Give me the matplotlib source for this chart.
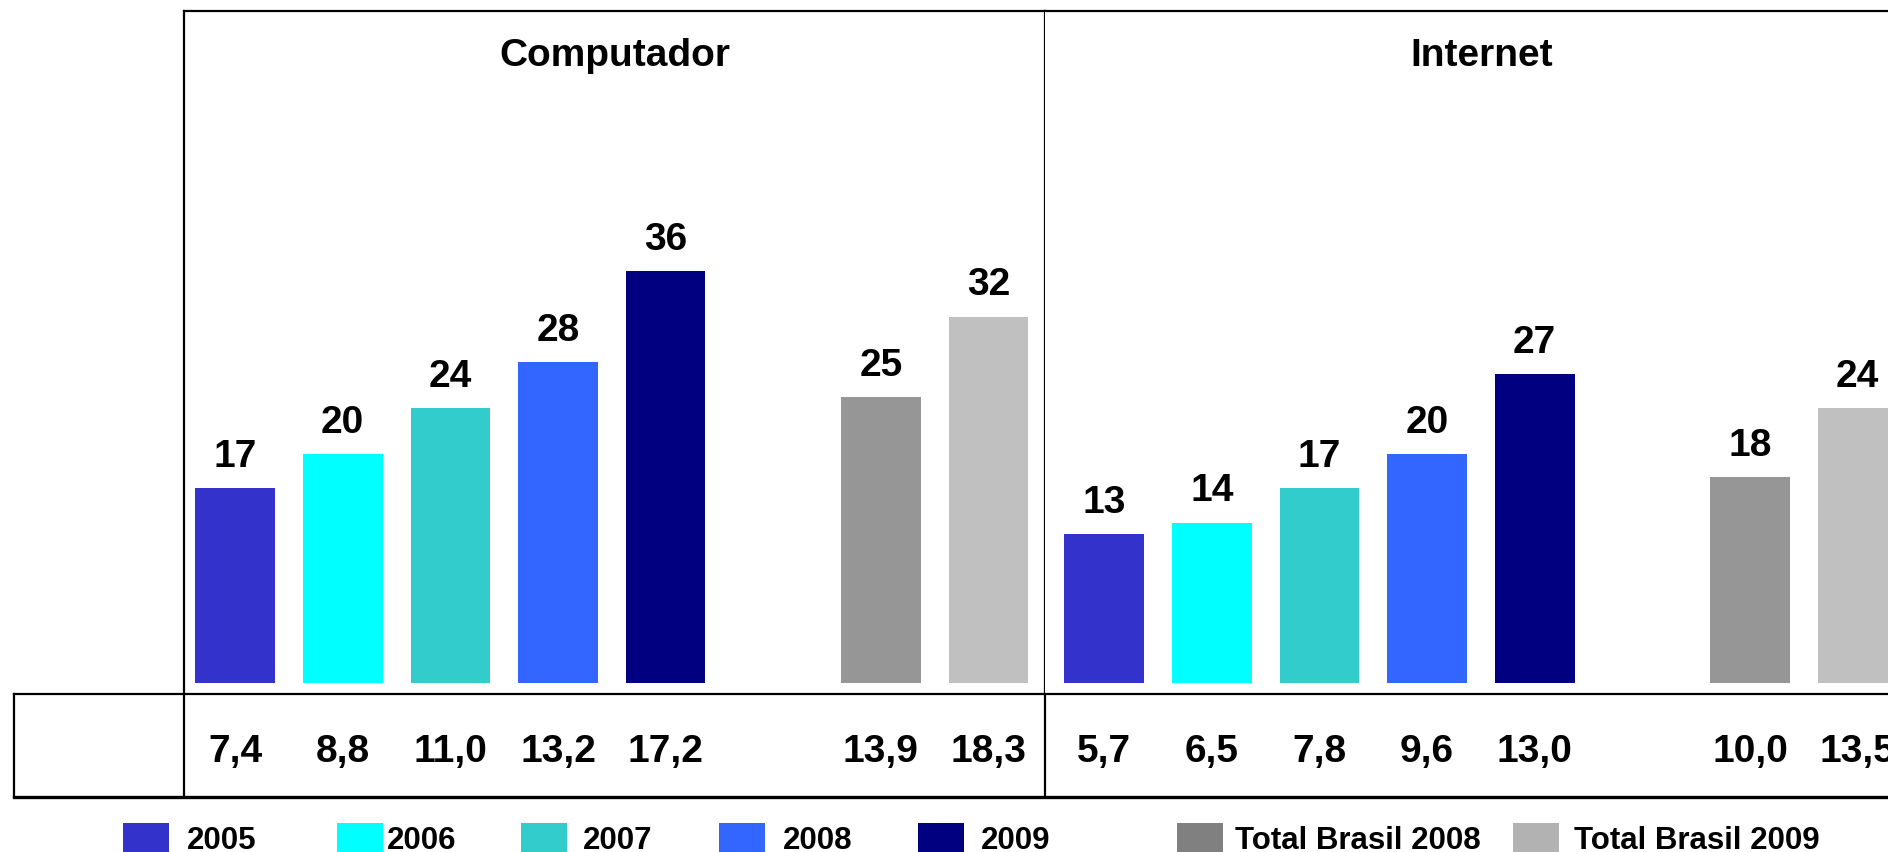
import matplotlib
matplotlib.use("Agg")
import matplotlib.pyplot as plt
from matplotlib.patches import Rectangle
from matplotlib.lines import Line2D
from matplotlib.transforms import blended_transform_factory

plt.rcParams['font.family'] = ['Liberation Sans', 'DejaVu Sans']
plt.rcParams['font.weight'] = 'bold'

# ---- data ----
categories = ['2005', '2006', '2007', '2008', '2009', 'Total Brasil 2008', 'Total Brasil 2009']
panel_titles = ['Computador', 'Internet']
comp_values = [17, 20, 24, 28, 36, 25, 32]
inet_values = [13, 14, 17, 20, 27, 18, 24]
comp_table = ['7,4', '8,8', '11,0', '13,2', '17,2', '13,9', '18,3']
inet_table = ['5,7', '6,5', '7,8', '9,6', '13,0', '10,0', '13,5']

bar_colors = ['#3333CC', '#00FFFF', '#33CCCC', '#3366FF', '#000080', '#969696', '#C0C0C0']
legend_colors = ['#3333CC', '#00FFFF', '#33CCCC', '#3366FF', '#000080', '#808080', '#B2B2B2']
positions = [0, 1, 2, 3, 4, 6, 7]

W, H = 1888, 852
fig = plt.figure(figsize=(W / 100, H / 100), dpi=100)

def fx(px):
    return px / W

def fy(py):
    return 1 - py / H

LW = 1.6
top_px, bot_px = 11, 693
panel_w = 861
lefts = [184, 1045]
xlims = [(-0.475, 7.525), (-0.55, 7.45)]
title_dx = [0, 6]
ymin = -10 / 11.45
ymax = (683 - top_px) / 11.45

axes = []
for i, (vals, tab) in enumerate([(comp_values, comp_table), (inet_values, inet_table)]):
    ax = fig.add_axes([fx(lefts[i]), fy(bot_px), fx(panel_w), (bot_px - top_px) / H])
    ax.bar(positions, vals, width=0.74, color=bar_colors, edgecolor='none', zorder=2)
    ax.set_xlim(*xlims[i])
    ax.set_ylim(ymin, ymax)
    ax.set_xticks([])
    ax.set_yticks([])
    ax.spines['bottom'].set_visible(False)
    for s in ['left', 'top', 'right']:
        ax.spines[s].set_linewidth(LW)
        ax.spines[s].set_color('black')
    if i == 1:
        ax.spines['left'].set_visible(False)
    for x, v in zip(positions, vals):
        ax.annotate(str(v), (x, v), xytext=(0, 22.5), textcoords='offset points',
                    ha='center', va='center', fontsize=28, fontweight='bold')
    trans = blended_transform_factory(ax.transData, fig.transFigure)
    for x, t in zip(positions, tab):
        ax.text(x, fy(762), t, transform=trans, ha='center', va='baseline',
                fontsize=28, fontweight='bold', clip_on=False)
    ax.text(fx(lefts[i] + panel_w / 2 + title_dx[i]), fy(66), panel_titles[i],
            transform=fig.transFigure,
            ha='center', va='baseline', fontsize=28, fontweight='bold')
    axes.append(ax)

# overlay in pixel coordinates for table lines and legend
ov = fig.add_axes([0, 0, 1, 1], zorder=5)
ov.set_xlim(0, W)
ov.set_ylim(H, 0)
ov.axis('off')
ov.patch.set_alpha(0)

ov.add_line(Line2D([14, W], [693.5, 693.5], color='black', lw=LW))
ov.add_line(Line2D([14, W], [797, 797], color='black', lw=2.4))
ov.add_line(Line2D([14, 14], [693.5, 797], color='black', lw=LW))
ov.add_line(Line2D([184, 184], [693.5, 797], color='black', lw=LW))
ov.add_line(Line2D([1045, 1045], [693.5, 797], color='black', lw=LW))

# legend
patch_x = [123, 337, 521, 719, 918, 1177, 1513]
text_x = [187, 387, 583, 783, 981, 1235, 1574]
for px_, tx_, c, lab in zip(patch_x, text_x, legend_colors, categories):
    ov.add_patch(Rectangle((px_, 823), 46, 46, facecolor=c, edgecolor='none'))
    ov.text(tx_, 849, lab, ha='left', va='baseline', fontsize=22.5, fontweight='bold')

fig.savefig('out.png', dpi=100)
